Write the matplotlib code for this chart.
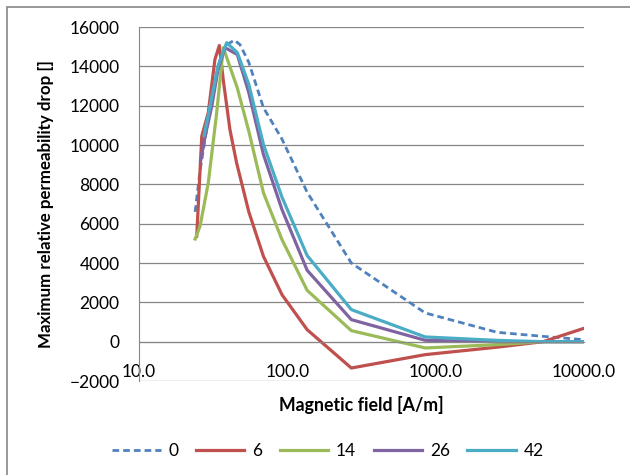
"""Maximum relative permeability drop vs magnetic field (Excel-style line chart)."""
import matplotlib
matplotlib.use('Agg')
import matplotlib.pyplot as plt
from matplotlib.patches import Rectangle
from matplotlib.ticker import FixedLocator, FuncFormatter, NullLocator

plt.rcParams['font.family'] = ['Lato', 'DejaVu Sans']

# series 0 (dashed)
H_0 = [23.9, 25.8, 28.0, 31.0, 35.0, 39.0, 44.0, 48.0, 55.0, 69.0, 92.0,
       136.0, 270.0, 850.0, 2600.0, 5300.0, 10000.0]
V_0 = [6600, 8700, 10400, 12200, 14300, 15100, 15330, 15100, 14200, 11900,
       10300, 7600, 4000, 1460, 475, 270, 100]

# series 6
H_6 = [24.5, 26.5, 29.3, 32.5, 34.8, 37.0, 41.0, 45.5, 55.0, 69.0, 92.0,
       136.0, 270.0, 850.0, 2600.0, 5300.0, 10000.0]
V_6 = [5360, 10450, 11640, 14350, 15060, 13300, 10790, 9090, 6600, 4340,
       2390, 610, -1340, -660, -280, 0, 680]

# series 14
H_14 = [23.9, 25.8, 29.3, 33.4, 37.0, 46.0, 55.0, 69.0, 92.0, 136.0, 270.0,
        850.0, 2600.0, 5300.0, 10000.0]
V_14 = [5220, 5870, 8070, 11640, 14950, 12900, 10700, 7570, 5190, 2610, 560,
        -320, -150, 0, 0]

# series 26
H_26 = [26.0, 28.0, 31.0, 34.0, 38.0, 46.0, 55.0, 69.0, 92.0, 136.0, 270.0,
        850.0, 2600.0, 5300.0, 10000.0]
V_26 = [9200, 10500, 12000, 13800, 14950, 14600, 12660, 9520, 6720, 3630,
        1120, 70, 0, 0, 0]

# series 42
H_42 = [27.5, 30.0, 34.0, 39.0, 46.0, 55.0, 69.0, 92.0, 136.0, 270.0, 850.0,
        2600.0, 5300.0, 10000.0]
V_42 = [10500, 11900, 14000, 15200, 14700, 13080, 10030, 7350, 4380, 1630,
        240, 65, 0, 0]

LABELS = ['0', '6', '14', '26', '42']
COLORS = ['#4F81BD', '#C0504D', '#9BBB59', '#8064A2', '#4BACC6']
X_TICKS = [10, 100, 1000, 10000]
Y_TICKS = list(range(-2000, 16001, 2000))
GRID = '#868686'


def main():
    fig = plt.figure(figsize=(6.3, 4.75), dpi=100)
    ax = fig.add_axes([139 / 630, 1 - 381 / 475, 445 / 630, 354 / 475])

    series = [(H_0, V_0), (H_6, V_6), (H_14, V_14), (H_26, V_26), (H_42, V_42)]
    for i, (h, v) in enumerate(series):
        style = dict(color=COLORS[i], lw=2.3, label=LABELS[i],
                     solid_joinstyle='round')
        if i == 0:
            style.update(ls=(0, (2.4, 1.45)), lw=2.0, dash_capstyle='butt')
        ax.plot(h, v, **style)

    ax.set_xscale('log')
    ax.set_xlim(10, 10000)
    ax.set_ylim(-2000, 16000)
    ax.xaxis.set_major_locator(FixedLocator(X_TICKS))
    ax.xaxis.set_minor_locator(NullLocator())
    ax.xaxis.set_major_formatter(FuncFormatter(lambda x, p: f'{x:.1f}'))
    ax.set_yticks(Y_TICKS)

    ax.grid(axis='y', color=GRID, lw=0.9)
    ax.set_axisbelow(True)
    for s in ('top', 'right'):
        ax.spines[s].set_visible(False)
    ax.spines['left'].set_color(GRID)
    ax.spines['bottom'].set_color(GRID)
    ax.spines['bottom'].set_position(('data', 0))
    ax.tick_params(axis='y', length=0, pad=14, labelsize=12.5)
    ax.tick_params(axis='x', length=0, pad=16, labelsize=12.5)

    fig.text(46 / 630, 1 - 204 / 475, 'Maximum relative permeability drop []',
             rotation=90, ha='center', va='center', fontsize=12.2,
             fontweight='bold')
    fig.text(361 / 630, 1 - 405 / 475, 'Magnetic field [A/m]', ha='center',
             va='center', fontsize=12.8, fontweight='bold')

    fig.legend(loc='center', bbox_to_anchor=(328 / 630, 1 - 451 / 475),
               ncol=5, frameon=False, fontsize=12.5, handlelength=2.8,
               handletextpad=0.45, columnspacing=1.0)

    fig.patches.append(Rectangle((7 / 630, -0.1), 1.2, 1 - 7 / 475 + 0.1,
                                 transform=fig.transFigure, fill=False,
                                 edgecolor=GRID, lw=1.2))
    fig.savefig('out.png', dpi=100)


if __name__ == '__main__':
    main()
